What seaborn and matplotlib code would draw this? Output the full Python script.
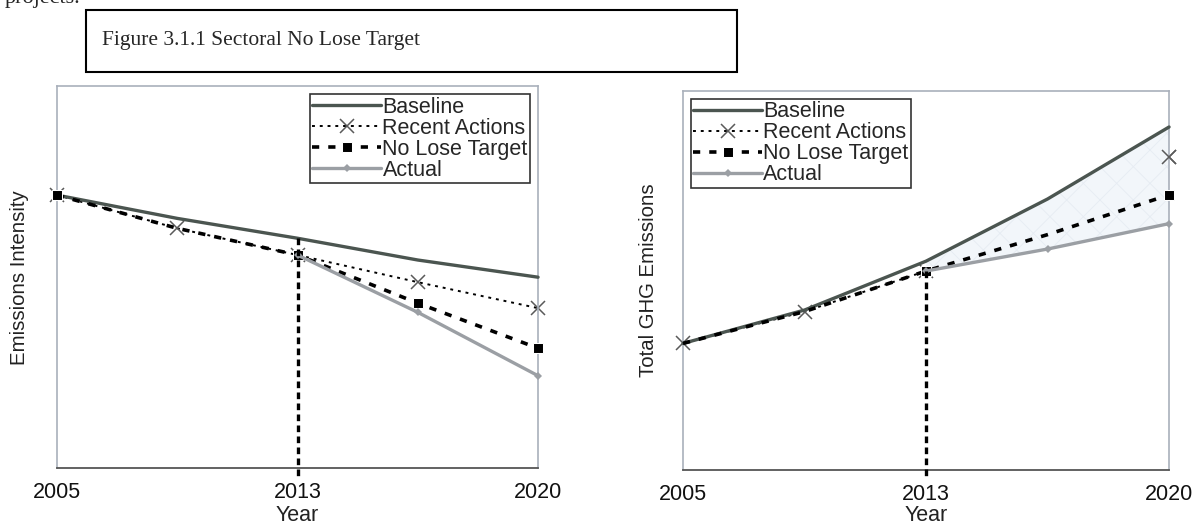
"""
Sectoral No Lose Target - emissions intensity vs total GHG emissions
"""
import numpy as np
import matplotlib.pyplot as plt
import seaborn as sns

sns.set_style("white")
plt.rcParams['font.family'] = ['Liberation Sans', 'DejaVu Sans']
plt.rcParams['hatch.linewidth'] = 0.6

# x positions are equally spaced steps; only three of them are labelled
positions = [0, 1, 2, 3, 4]
year_labels = ['2005', '', '2013', '', '2020']
policy_pos = 2

# Left panel: emissions intensity (arbitrary units)
int_baseline = [71.5, 65.4, 60.2, 54.5, 50.0]
int_recent = [71.5, 62.8, 55.8, 48.7, 41.9]
int_target = [71.5, 62.8, 55.8, 43.2, 31.4]
int_actual = [np.nan, np.nan, 55.8, 40.8, 24.2]

# Right panel: total GHG emissions (arbitrary units)
ghg_baseline = [33.4, 42.2, 55.1, 71.5, 90.5]
ghg_recent = [33.4, 41.8, 52.5, 67.5, 82.7]
ghg_target = [33.4, 41.8, 52.5, 62.1, 72.6]
ghg_actual = [np.nan, np.nan, 52.5, 58.3, 65.0]

c_base = '#4b5550'
c_actual = '#9b9fa4'
c_cross = '#5a5a5a'


def draw_panel(ax, base, recent, target, actual, vline_top, ylabel,
               legend_loc, target_marks, ylabel_x, xlabel_y, shade=False):
    sns.lineplot(x=positions, y=base, ax=ax, color=c_base, linewidth=2.4,
                 label='Baseline', zorder=3, clip_on=False)
    sns.lineplot(x=positions, y=recent, ax=ax, color='black', linewidth=1.4,
                 linestyle=(0, (1.5, 2.5)), marker='x', markersize=10,
                 markeredgecolor=c_cross, markeredgewidth=1.1,
                 label='Recent Actions', zorder=2, clip_on=False)
    sns.lineplot(x=positions, y=target, ax=ax, color='black', linewidth=2.6,
                 linestyle=(0, (2, 2.5)), marker='s', markersize=6.5,
                 markevery=target_marks, label='No Lose Target', zorder=4,
                 clip_on=False)
    sns.lineplot(x=positions, y=actual, ax=ax, color=c_actual, linewidth=2.4,
                 marker='D', markersize=4.5, markeredgewidth=0,
                 label='Actual', zorder=5, clip_on=False)
    if shade:
        xs = positions[policy_pos:]
        ax.fill_between(xs, base[policy_pos:], actual[policy_pos:],
                        facecolor='#f2f6fa', edgecolor='#e6ecf3', hatch='x',
                        linewidth=0, zorder=2.5)
        # end point of recent actions stays visible above the shading
        ax.plot(positions[-1:], recent[-1:], linestyle='none', marker='x',
                markersize=10, markeredgecolor=c_cross, markeredgewidth=1.1,
                zorder=6, clip_on=False)

    # policy year marker
    ax.plot([positions[policy_pos], positions[policy_pos]], [vline_top, -2.6],
            color='black', linewidth=2.4, linestyle=(0, (2, 1.3)),
            clip_on=False, zorder=6)

    ax.set_xlim(positions[0], positions[-1])
    ax.set_ylim(0, 100)
    ax.set_xticks(positions)
    ax.set_xticklabels(year_labels, fontsize=15.5, color='#111111')
    ax.set_yticks([])
    ax.tick_params(axis='x', direction='out', length=6, width=1.2,
                   color='#555555', pad=4)
    ax.set_xlabel('Year', fontsize=15.5, color='#222222')
    ax.xaxis.set_label_coords(0.5, xlabel_y)
    ax.xaxis.label.set_va('center')
    ax.set_ylabel(ylabel, fontsize=14.7, color='#222222')
    ax.yaxis.set_label_coords(ylabel_x, 0.5)
    ax.yaxis.label.set_va('center')
    for side in ['top', 'left', 'right']:
        ax.spines[side].set_color('#a9b0bb')
        ax.spines[side].set_linewidth(1.2)
    ax.spines['bottom'].set_color('#555555')
    ax.spines['bottom'].set_linewidth(1.3)

    leg = ax.legend(loc=legend_loc, fontsize=15.5, frameon=True,
                    fancybox=False, handlelength=3.2, handletextpad=0.05,
                    labelspacing=0.0, borderpad=0.12, borderaxespad=0.36)
    leg.get_frame().set_edgecolor('black')
    leg.get_frame().set_linewidth(1.2)
    leg.set_zorder(10)


fig = plt.figure(figsize=(12.01, 5.26), dpi=100)
ax1 = fig.add_axes([0.0475, 0.110, 0.4005, 0.726])
ax2 = fig.add_axes([0.5687, 0.1065, 0.4047, 0.7205])

draw_panel(ax1, int_baseline, int_recent, int_target, int_actual,
           int_baseline[policy_pos], 'Emissions Intensity', 'upper right',
           target_marks=[0, 2, 3, 4], ylabel_x=-0.079, xlabel_y=-0.125)
draw_panel(ax2, ghg_baseline, ghg_recent, ghg_target, ghg_actual,
           ghg_actual[policy_pos], 'Total GHG Emissions', 'upper left',
           target_marks=[2, 4], ylabel_x=-0.071, xlabel_y=-0.12, shade=True)

# caption box and cut-off text from the page above
fig.text(0.004, 1 - 3 / 526, 'projects.', fontsize=16, va='baseline',
         family=['Liberation Serif', 'DejaVu Serif'])
fig.patches.append(plt.Rectangle((86 / 1201, 1 - 72 / 526), 651 / 1201,
                                 62 / 526, transform=fig.transFigure,
                                 facecolor='white', edgecolor='black',
                                 linewidth=1.5))
fig.text(102 / 1201, 1 - 40 / 526, 'Figure 3.1.1 Sectoral No Lose Target',
         fontsize=15.5, va='center', family=['Liberation Serif', 'DejaVu Serif'])

plt.savefig('out.png', dpi=100)
